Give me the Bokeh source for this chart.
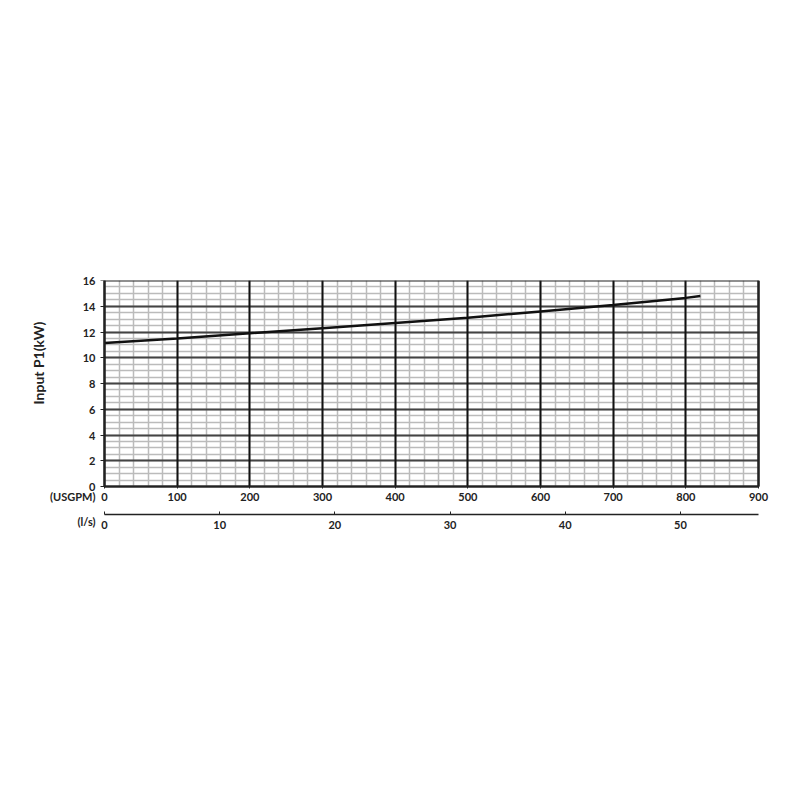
from bokeh.plotting import figure
from bokeh.models import (LinearAxis, Range1d, SingleIntervalTicker, FixedTicker,
                          Grid, Title)
from bokeh.embed import file_html
from bokeh.resources import INLINE

# ---- data ----
flow_usgpm = [0, 100, 200, 300, 400, 500, 600, 700, 800, 820]
power_kw = [11.15, 11.5, 11.9, 12.3, 12.7, 13.1, 13.6, 14.1, 14.65, 14.8]
x_max_usgpm = 900
y_max_kw = 16
usgpm_per_ls = 15.85
y_tick_values = [0, 2, 4, 6, 8, 10, 12, 14, 16]
unit_labels = ["(USGPM)", "(l/s)"]

FONT = "Lato"
INK = "#222222"

# ---- layout (pixels) ----
W, H = 784, 784
left_px, right_px, top_px, zero_px, bottom_px = 104, 758, 280, 486, 532
pad_l, pad_r = 6, 12
kw_per_px = y_max_kw / (zero_px - top_px)
usgpm_per_px = x_max_usgpm / (right_px - left_px)
y_start = -(bottom_px - zero_px) * kw_per_px
x_start = -pad_l * usgpm_per_px
x_end = x_max_usgpm + pad_r * usgpm_per_px
usgpm_label_y = -(496 - zero_px) * kw_per_px
ls_label_y = -(521 - zero_px) * kw_per_px
ls_axis_y = -(514 - zero_px) * kw_per_px
xb = (0, x_max_usgpm)
yb = (0, y_max_kw)

p = figure(width=W, height=H, output_backend="svg", toolbar_location=None,
           x_range=Range1d(x_start, x_end), y_range=Range1d(y_start, y_max_kw),
           min_border_left=left_px - pad_l, min_border_right=W - right_px - pad_r,
           min_border_top=top_px, min_border_bottom=H - bottom_px)
p.outline_line_color = None
xaxis = p.below[0]
yaxis = p.left[0]

xt = SingleIntervalTicker(interval=100, num_minor_ticks=5)
yt = SingleIntervalTicker(interval=2, num_minor_ticks=4)

# minor grids first
p.xgrid.ticker = xt
p.ygrid.ticker = yt
p.xgrid.bounds = xb
p.xgrid.cross_bounds = yb
p.ygrid.bounds = yb
p.ygrid.cross_bounds = xb
for g in (p.xgrid, p.ygrid):
    g.grid_line_color = None
    g.minor_grid_line_color = "#bbbbbb"
    g.minor_grid_line_width = 1.5
# major grids on top
p.add_layout(Grid(dimension=1, ticker=yt, bounds=yb, cross_bounds=xb,
                  grid_line_color="#444444", grid_line_width=2), "center")
p.add_layout(Grid(dimension=0, ticker=xt, bounds=xb, cross_bounds=yb,
                  grid_line_color="#111111", grid_line_width=2), "center")


def style(ax):
    ax.major_label_text_font = FONT
    ax.major_label_text_font_style = "bold"
    ax.major_label_text_font_size = "11px"
    ax.major_label_text_color = INK
    ax.minor_tick_line_color = None
    ax.axis_line_color = INK
    ax.major_tick_line_color = INK


# y axis: tick labels 0..16 plus the unit labels of the two flow scales
style(yaxis)
yaxis.ticker = FixedTicker(ticks=y_tick_values + [usgpm_label_y, ls_label_y])
yaxis.major_label_overrides = {usgpm_label_y: unit_labels[0], ls_label_y: unit_labels[1]}
yaxis.axis_line_color = None
yaxis.major_tick_line_color = None
yaxis.major_tick_in = 0
yaxis.major_tick_out = 0
yaxis.major_label_standoff = 3

# tick marks + left frame line at x = 0
ytick_ax = LinearAxis(fixed_location=0, ticker=FixedTicker(ticks=y_tick_values),
                      bounds=yb)
style(ytick_ax)
ytick_ax.axis_line_width = 2
ytick_ax.major_tick_in = 0
ytick_ax.major_tick_out = 4
ytick_ax.major_label_overrides = {v: "" for v in y_tick_values}
ytick_ax.major_label_standoff = 0
p.add_layout(ytick_ax, "left")

# right + top frame lines
rframe = LinearAxis(fixed_location=x_max_usgpm, bounds=yb, ticker=FixedTicker(ticks=[]))
style(rframe)
rframe.axis_line_width = 2
p.add_layout(rframe, "right")
tframe = LinearAxis(fixed_location=y_max_kw, bounds=xb, ticker=FixedTicker(ticks=[]))
style(tframe)
tframe.axis_line_width = 2
p.add_layout(tframe, "above")

# y title
p.add_layout(Title(text="Input P1(kW)", align="left", offset=128,
                   text_font=FONT, text_font_style="bold", text_font_size="14px",
                   text_color=INK, standoff=2), "left")

# primary x axis (USGPM) at y = 0
style(xaxis)
xaxis.ticker = xt
xaxis.fixed_location = 0
xaxis.bounds = xb
xaxis.axis_line_width = 2
xaxis.major_tick_in = 0
xaxis.major_tick_out = 2
xaxis.major_label_standoff = 2

# secondary x axis (l/s)
p.extra_x_ranges = {"ls": Range1d(x_start / usgpm_per_ls, x_end / usgpm_per_ls)}
ax2 = LinearAxis(x_range_name="ls", ticker=SingleIntervalTicker(interval=10),
                 fixed_location=ls_axis_y, bounds=(0, x_max_usgpm / usgpm_per_ls))
style(ax2)
ax2.axis_line_width = 1.5
ax2.major_tick_in = 3
ax2.major_tick_out = 0
ax2.major_label_standoff = 2
p.add_layout(ax2, "below")

p.line(flow_usgpm, power_kw, line_color="#111111", line_width=2.5)

open("out.html", "w").write(file_html(p, INLINE))
